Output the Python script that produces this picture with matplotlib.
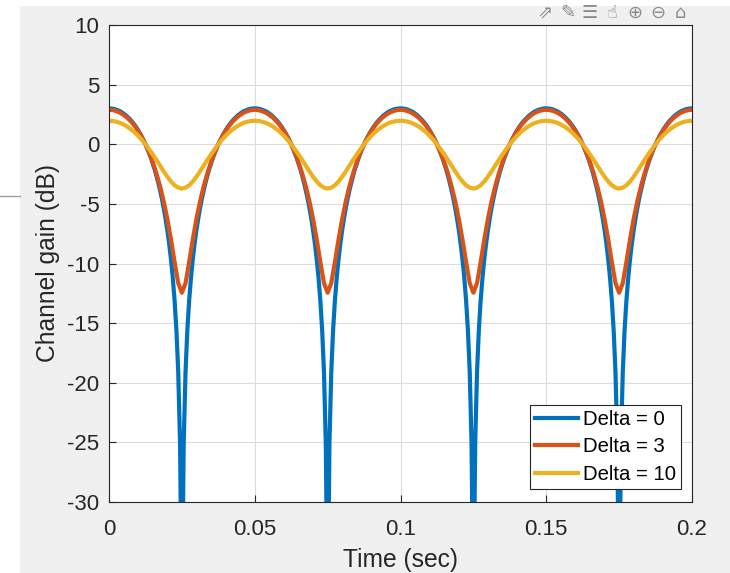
import numpy as np
import matplotlib
matplotlib.use("Agg")
import matplotlib.pyplot as plt
from matplotlib.patches import Rectangle
from matplotlib.lines import Line2D

# ---- data (channel gain in dB) ----
# Delta = 0 sampled every 0.625 ms (finer, because of the deep notches)
time_fine_s = np.linspace(0.0, 0.2, 321)
gain_delta0 = [
    3.01, 3.00, 2.98, 2.95, 2.90, 2.84, 2.77, 2.68, 2.57, 2.46, 2.32, 2.17, 2.01, 1.83, 1.63, 1.41, 1.17, 0.91, 0.63, 0.33,
    0.00, -0.35, -0.74, -1.15, -1.61, -2.09, -2.63, -3.21, -3.85, -4.55, -5.33, -6.21, -7.19, -8.32, -9.63, -11.19, -13.10, -15.59, -19.10, -25.11,
    -40.0, -25.11, -19.10, -15.59, -13.10, -11.19, -9.63, -8.32, -7.19, -6.21, -5.33, -4.55, -3.85, -3.21, -2.63, -2.09, -1.61, -1.15, -0.74, -0.35,
    0.00, 0.33, 0.63, 0.91, 1.17, 1.41, 1.63, 1.83, 2.01, 2.17, 2.32, 2.46, 2.57, 2.68, 2.77, 2.84, 2.90, 2.95, 2.98, 3.00,
    3.01, 3.00, 2.98, 2.95, 2.90, 2.84, 2.77, 2.68, 2.57, 2.46, 2.32, 2.17, 2.01, 1.83, 1.63, 1.41, 1.17, 0.91, 0.63, 0.33,
    0.00, -0.35, -0.74, -1.15, -1.61, -2.09, -2.63, -3.21, -3.85, -4.55, -5.33, -6.21, -7.19, -8.32, -9.63, -11.19, -13.10, -15.59, -19.10, -25.11,
    -40.0, -25.11, -19.10, -15.59, -13.10, -11.19, -9.63, -8.32, -7.19, -6.21, -5.33, -4.55, -3.85, -3.21, -2.63, -2.09, -1.61, -1.15, -0.74, -0.35,
    0.00, 0.33, 0.63, 0.91, 1.17, 1.41, 1.63, 1.83, 2.01, 2.17, 2.32, 2.46, 2.57, 2.68, 2.77, 2.84, 2.90, 2.95, 2.98, 3.00,
    3.01, 3.00, 2.98, 2.95, 2.90, 2.84, 2.77, 2.68, 2.57, 2.46, 2.32, 2.17, 2.01, 1.83, 1.63, 1.41, 1.17, 0.91, 0.63, 0.33,
    0.00, -0.35, -0.74, -1.15, -1.61, -2.09, -2.63, -3.21, -3.85, -4.55, -5.33, -6.21, -7.19, -8.32, -9.63, -11.19, -13.10, -15.59, -19.10, -25.11,
    -40.0, -25.11, -19.10, -15.59, -13.10, -11.19, -9.63, -8.32, -7.19, -6.21, -5.33, -4.55, -3.85, -3.21, -2.63, -2.09, -1.61, -1.15, -0.74, -0.35,
    0.00, 0.33, 0.63, 0.91, 1.17, 1.41, 1.63, 1.83, 2.01, 2.17, 2.32, 2.46, 2.57, 2.68, 2.77, 2.84, 2.90, 2.95, 2.98, 3.00,
    3.01, 3.00, 2.98, 2.95, 2.90, 2.84, 2.77, 2.68, 2.57, 2.46, 2.32, 2.17, 2.01, 1.83, 1.63, 1.41, 1.17, 0.91, 0.63, 0.33,
    0.00, -0.35, -0.74, -1.15, -1.61, -2.09, -2.63, -3.21, -3.85, -4.55, -5.33, -6.21, -7.19, -8.32, -9.63, -11.19, -13.10, -15.59, -19.10, -25.11,
    -40.0, -25.11, -19.10, -15.59, -13.10, -11.19, -9.63, -8.32, -7.19, -6.21, -5.33, -4.55, -3.85, -3.21, -2.63, -2.09, -1.61, -1.15, -0.74, -0.35,
    0.00, 0.33, 0.63, 0.91, 1.17, 1.41, 1.63, 1.83, 2.01, 2.17, 2.32, 2.46, 2.57, 2.68, 2.77, 2.84, 2.90, 2.95, 2.98, 3.00,
    3.01,
]

# Delta = 3 and Delta = 10 sampled every 1.25 ms
time_s = np.linspace(0.0, 0.2, 161)
gain_delta3 = [
    2.89, 2.86, 2.78, 2.65, 2.46, 2.22, 1.92, 1.55, 1.11, 0.60, 0.00, -0.69, -1.50, -2.43, -3.51, -4.77, -6.25, -7.97, -9.87, -11.65,
    -12.45, -11.65, -9.87, -7.97, -6.25, -4.77, -3.51, -2.43, -1.50, -0.69, 0.00, 0.60, 1.11, 1.55, 1.92, 2.22, 2.46, 2.65, 2.78, 2.86,
    2.89, 2.86, 2.78, 2.65, 2.46, 2.22, 1.92, 1.55, 1.11, 0.60, 0.00, -0.69, -1.50, -2.43, -3.51, -4.77, -6.25, -7.97, -9.87, -11.65,
    -12.45, -11.65, -9.87, -7.97, -6.25, -4.77, -3.51, -2.43, -1.50, -0.69, 0.00, 0.60, 1.11, 1.55, 1.92, 2.22, 2.46, 2.65, 2.78, 2.86,
    2.89, 2.86, 2.78, 2.65, 2.46, 2.22, 1.92, 1.55, 1.11, 0.60, 0.00, -0.69, -1.50, -2.43, -3.51, -4.77, -6.25, -7.97, -9.87, -11.65,
    -12.45, -11.65, -9.87, -7.97, -6.25, -4.77, -3.51, -2.43, -1.50, -0.69, 0.00, 0.60, 1.11, 1.55, 1.92, 2.22, 2.46, 2.65, 2.78, 2.86,
    2.89, 2.86, 2.78, 2.65, 2.46, 2.22, 1.92, 1.55, 1.11, 0.60, 0.00, -0.69, -1.50, -2.43, -3.51, -4.77, -6.25, -7.97, -9.87, -11.65,
    -12.45, -11.65, -9.87, -7.97, -6.25, -4.77, -3.51, -2.43, -1.50, -0.69, 0.00, 0.60, 1.11, 1.55, 1.92, 2.22, 2.46, 2.65, 2.78, 2.86,
    2.89,
]
gain_delta10 = [
    1.97, 1.95, 1.89, 1.80, 1.66, 1.48, 1.26, 1.01, 0.71, 0.37, 0.00, -0.41, -0.85, -1.31, -1.79, -2.27, -2.72, -3.12, -3.44, -3.64,
    -3.72, -3.64, -3.44, -3.12, -2.72, -2.27, -1.79, -1.31, -0.85, -0.41, 0.00, 0.37, 0.71, 1.01, 1.26, 1.48, 1.66, 1.80, 1.89, 1.95,
    1.97, 1.95, 1.89, 1.80, 1.66, 1.48, 1.26, 1.01, 0.71, 0.37, 0.00, -0.41, -0.85, -1.31, -1.79, -2.27, -2.72, -3.12, -3.44, -3.64,
    -3.72, -3.64, -3.44, -3.12, -2.72, -2.27, -1.79, -1.31, -0.85, -0.41, 0.00, 0.37, 0.71, 1.01, 1.26, 1.48, 1.66, 1.80, 1.89, 1.95,
    1.97, 1.95, 1.89, 1.80, 1.66, 1.48, 1.26, 1.01, 0.71, 0.37, 0.00, -0.41, -0.85, -1.31, -1.79, -2.27, -2.72, -3.12, -3.44, -3.64,
    -3.72, -3.64, -3.44, -3.12, -2.72, -2.27, -1.79, -1.31, -0.85, -0.41, 0.00, 0.37, 0.71, 1.01, 1.26, 1.48, 1.66, 1.80, 1.89, 1.95,
    1.97, 1.95, 1.89, 1.80, 1.66, 1.48, 1.26, 1.01, 0.71, 0.37, 0.00, -0.41, -0.85, -1.31, -1.79, -2.27, -2.72, -3.12, -3.44, -3.64,
    -3.72, -3.64, -3.44, -3.12, -2.72, -2.27, -1.79, -1.31, -0.85, -0.41, 0.00, 0.37, 0.71, 1.01, 1.26, 1.48, 1.66, 1.80, 1.89, 1.95,
    1.97,
]

series_labels = ["Delta = 0", "Delta = 3", "Delta = 10"]
series_colors = ["#0072BD", "#D95319", "#EDB120"]
x_ticks = [0, 0.05, 0.1, 0.15, 0.2]
x_tick_labels = ["0", "0.05", "0.1", "0.15", "0.2"]
y_ticks = [-30, -25, -20, -15, -10, -5, 0, 5, 10]
y_tick_labels = ["-30", "-25", "-20", "-15", "-10", "-5", "0", "5", "10"]

plt.rcParams["font.family"] = ["Liberation Sans", "DejaVu Sans"]

W, H = 730, 573
fig = plt.figure(figsize=(W / 100, H / 100), dpi=100, facecolor="white")

# MATLAB figure background panel
fig.patches.append(Rectangle((20 / W, 0), 1 - 20 / W, 1 - 6 / H,
                             transform=fig.transFigure, facecolor="#f0f0f0",
                             edgecolor="none", zorder=-10))
# stray line at the left edge
fig.add_artist(Line2D([0, 20 / W], [1 - 196 / H, 1 - 196 / H],
                      transform=fig.transFigure, color="#a0a0a0", lw=1.0))

ax = fig.add_axes([109 / W, 1 - 502 / H, (692 - 109) / W, (502 - 25) / H])
ax.set_facecolor("white")

for xs, ys, lab, col in zip([time_fine_s, time_s, time_s],
                            [gain_delta0, gain_delta3, gain_delta10],
                            series_labels, series_colors):
    ax.plot(xs, ys, color=col, lw=3.0, label=lab)

ax.set_xlim(0, 0.2)
ax.set_ylim(-30, 10)
ax.set_xticks(x_ticks)
ax.set_xticklabels(x_tick_labels)
ax.set_yticks(y_ticks)
ax.set_yticklabels(y_tick_labels)
ax.grid(True, color="#dcdcdc", lw=0.8)
ax.set_axisbelow(True)
for s in ax.spines.values():
    s.set_color("#262626")
    s.set_linewidth(0.8)
ax.tick_params(direction="in", length=5, width=0.8, color="#262626",
               labelcolor="#262626", labelsize=16)
ax.tick_params(axis="x", pad=12)
ax.tick_params(axis="y", pad=7)

ax.set_xlabel("Time (sec)", fontsize=17.7, color="#262626", labelpad=6)
ax.set_ylabel("Channel gain (dB)", fontsize=17.7, color="#262626", labelpad=5)

leg = ax.legend(loc="lower right", bbox_to_anchor=((681 - 109) / 583, 13 / 477),
                borderaxespad=0, fontsize=14.6, frameon=True, fancybox=False,
                edgecolor="#262626", framealpha=1, handlelength=2.1,
                handletextpad=0.25, labelspacing=0.42, borderpad=0.25)
leg.get_frame().set_linewidth(0.8)
for line in leg.get_lines():
    line.set_linewidth(3.0)

# toolbar glyphs (approximate)
toolbar_glyphs = ["\u21d7", "\u270e", "\u2630", "\u261d", "\u2295", "\u2296", "\u2302"]
for i, g in enumerate(toolbar_glyphs):
    fig.text((545 + 22.5 * i) / W, 1 - 13 / H, g, fontsize=13, color="#8a8a8a",
             va="center", ha="center", family=["DejaVu Sans"])

fig.savefig("out.png", dpi=100, facecolor="white")
